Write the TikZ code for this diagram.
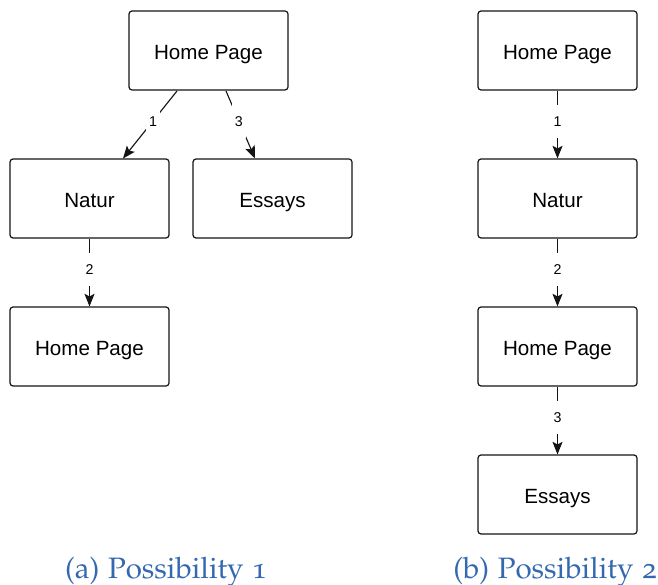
\documentclass[tikz,border=0pt]{standalone}
\usepackage[T1]{fontenc}
\usepackage{fontspec}
\newfontfamily\boxfont{Liberation Sans}
\usetikzlibrary{arrows.meta}
\definecolor{capblue}{RGB}{52,104,176}
\definecolor{boxline}{RGB}{20,20,20}
\newcommand{\capfont}{\fontencoding{T1}\fontfamily{pplj}\fontsize{29.5}{34}\selectfont}
\tikzset{
  page/.style={draw=boxline, line width=1.2pt, rounded corners=3pt, fill=white,
    minimum width=159pt, minimum height=79pt, inner sep=0pt,
    text height=17.4pt, text depth=0pt,
    font=\boxfont\fontsize{20.6}{24}\selectfont},
  link/.style={draw=boxline, line width=1.1pt, -{Stealth[length=12.5pt,width=10pt,inset=2.5pt]}},
  num/.style={fill=white, inner xsep=3pt, inner ysep=11.5pt,
    text height=10.2pt, text depth=0pt,
    font=\boxfont\fontsize{14.2}{16}\selectfont},
  caption/.style={text=capblue, font=\capfont, inner sep=0pt}
}
\begin{document}
\begin{tikzpicture}[x=1pt,y=-1pt]
  \useasboundingbox (0,0) rectangle (658,585);
  % possibility 1: a small tree
  \node[page] (a-home)  at (208.5,50.5)  {Home Page};
  \node[page] (a-natur) at (89.5,198.5)  {Natur};
  \node[page] (a-ess)   at (272.5,198.5) {Essays};
  \node[page] (a-back)  at (89.5,346.5)  {Home Page};
  \coordinate (a-s1) at (177,91);
  \coordinate (a-t1) at (123,158.5);
  \coordinate (a-s3) at (226,91);
  \coordinate (a-t3) at (255,158.5);
  \draw[link] (a-s1) -- node[num, pos=0.445] {1} (a-t1);
  \draw[link] (a-s3) -- node[num, pos=0.445] {3} (a-t3);
  \draw[link] (a-natur.south) -- node[num, pos=0.45] {2} (a-back.north);
  % possibility 2: a chain
  \node[page] (b-home)  at (557.5,50.5)  {Home Page};
  \node[page] (b-natur) at (557.5,198.5) {Natur};
  \node[page] (b-back)  at (557.5,346.5) {Home Page};
  \node[page] (b-ess)   at (557.5,494.5) {Essays};
  \draw[link] (b-home.south)  -- node[num, pos=0.45] {1} (b-natur.north);
  \draw[link] (b-natur.south) -- node[num, pos=0.45] {2} (b-back.north);
  \draw[link] (b-back.south)  -- node[num, pos=0.45] {3} (b-ess.north);
  % sub-captions
  \node[caption, anchor=base] (cap-a) at (166,578.5) {(a) Possibility 1};
  \node[caption, anchor=base] (cap-b) at (555,578.5) {(b) Possibility 2};
\end{tikzpicture}
\end{document}
